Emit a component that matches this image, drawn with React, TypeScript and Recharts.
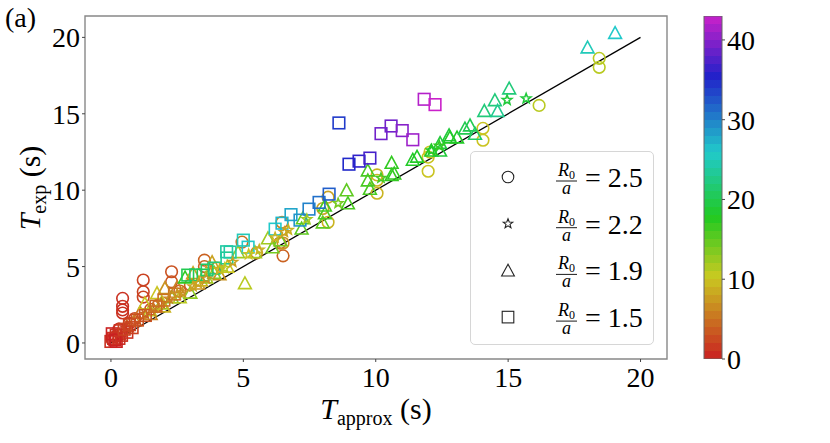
import React from 'react';
import {
  ScatterChart,
  Scatter,
  XAxis,
  YAxis,
  ReferenceLine,
  ReferenceArea,
  Legend,
  BarChart,
  Bar,
} from 'recharts';

// [T_approx, T_exp, colour value]
type Pt = [number, number, number];

const circles: Pt[] = [
  [0.05, 0.2, 1], [0.15, 0.4, 1], [0.3, 0.9, 1], [0.44, 1.96, 1], [0.44, 2.16, 1],
  [0.44, 2.4, 1], [0.44, 2.92, 1], [0.7, 1.3, 2], [0.9, 1.6, 2], [1.22, 3.0, 2],
  [1.22, 3.35, 2], [1.22, 4.12, 2], [1.5, 2.2, 3], [1.8, 2.5, 3], [2.29, 4.0, 3],
  [2.29, 4.66, 3], [2.6, 3.4, 4], [3.0, 3.8, 4], [3.53, 5.0, 4], [3.53, 5.42, 4],
  [4.0, 4.9, 6], [4.95, 6.6, 5], [5.5, 5.9, 6], [6.38, 6.54, 5], [6.5, 5.7, 4],
  [6.46, 7.9, 6], [6.5, 6.54, 7], [8.2, 7.9, 9], [8.2, 9.54, 8], [8.0, 8.8, 8],
  [10.05, 9.8, 9], [10.05, 10.65, 9], [10.05, 11.0, 9], [11.98, 11.24, 10],
  [11.98, 12.16, 10], [12.05, 12.5, 10], [14.05, 13.27, 10], [14.05, 14.05, 10],
  [16.17, 15.55, 11], [18.44, 18.04, 11], [18.44, 18.63, 11],
];

const stars: Pt[] = [
  [0.6, 1.0, 2], [1.0, 1.5, 3], [1.3, 1.9, 4], [1.6, 2.3, 5], [1.9, 2.6, 5],
  [2.2, 2.9, 6], [2.5, 3.2, 7], [2.7, 3.3, 7], [3.1, 3.7, 8], [3.3, 3.9, 8],
  [3.6, 4.2, 7], [4.1, 4.8, 9], [4.3, 4.9, 11], [4.6, 5.3, 8], [5.2, 5.8, 10],
  [5.6, 6.1, 9], [6.2, 6.9, 9], [6.7, 7.4, 9], [6.55, 7.25, 8], [7.4, 8.1, 12],
  [8.58, 9.15, 14], [10.2, 10.8, 16], [12.1, 12.6, 18], [12.4, 12.9, 17],
  [14.96, 15.9, 19], [15.68, 16.0, 19],
];

const triangles: Pt[] = [
  [0.3, 0.6, 2], [0.6, 1.1, 4], [0.9, 1.5, 6], [1.1, 2.0, 5], [1.28, 2.6, 10],
  [1.47, 2.15, 11], [1.5, 1.9, 6], [1.74, 3.27, 10], [1.9, 2.6, 12], [2.0, 2.4, 9],
  [2.04, 3.6, 7], [2.3, 3.0, 14], [2.5, 3.66, 6], [2.6, 3.0, 11], [2.8, 4.3, 17],
  [3.0, 3.3, 13], [3.1, 4.58, 8], [3.3, 3.9, 7], [3.4, 4.1, 9], [3.6, 4.3, 12],
  [3.82, 5.3, 8], [3.9, 4.6, 13], [4.1, 4.5, 7], [4.4, 5.0, 10], [4.8, 5.95, 12],
  [5.06, 3.92, 11], [5.44, 5.95, 12], [5.93, 6.86, 12], [6.1, 6.27, 14], [6.4, 6.73, 14],
  [7.2, 7.5, 15], [7.25, 8.17, 15], [8.0, 7.9, 15], [8.08, 8.5, 16], [8.08, 9.0, 16],
  [8.9, 10.0, 15], [8.95, 9.15, 16], [9.7, 10.65, 16], [9.7, 11.3, 16], [9.78, 10.1, 16],
  [10.6, 11.0, 17], [10.6, 11.8, 17], [10.7, 11.1, 17], [11.4, 12.0, 18], [11.56, 12.2, 18],
  [12.1, 12.6, 18], [12.43, 12.6, 19], [12.43, 13.1, 19], [12.77, 13.6, 19],
  [12.8, 13.46, 18], [13.07, 13.46, 18], [13.37, 14.05, 20], [13.56, 14.25, 20],
  [13.75, 13.7, 21], [14.1, 15.2, 22], [14.5, 15.9, 22], [14.6, 15.2, 23],
  [15.04, 16.67, 22], [18.0, 19.35, 25], [19.04, 20.3, 26],
];

const squares: Pt[] = [
  [0.0, 0.1, 1], [0.1, 0.3, 1], [0.2, 0.5, 1], [0.05, 0.6, 0], [0.3, 0.3, 1],
  [0.2, 0.1, 0], [0.4, 0.5, 1], [0.6, 0.7, 1], [0.8, 1.0, 2],
  [0.35, 0.8, 1], [0.15, 0.2, 0], [0.5, 0.9, 2], [0.7, 1.2, 2], [1.0, 1.5, 3],
  [1.3, 1.8, 3], [1.7, 2.4, 4], [2.0, 2.8, 5], [2.4, 3.2, 5], [2.9, 4.44, 20],
  [3.2, 4.45, 21], [3.48, 4.44, 20], [3.63, 4.77, 21], [3.9, 4.9, 22], [4.38, 5.56, 23],
  [4.37, 5.97, 24], [4.5, 5.95, 24], [5.18, 6.27, 26], [5.0, 6.73, 25], [6.2, 7.45, 26],
  [6.46, 7.84, 27], [6.8, 8.4, 28], [7.14, 8.04, 29], [7.48, 8.76, 30], [7.86, 9.2, 31],
  [8.24, 9.74, 32], [8.61, 14.4, 34], [8.99, 11.7, 35], [9.37, 11.9, 36], [9.78, 12.1, 37],
  [10.2, 13.7, 39], [10.58, 14.2, 39], [11.0, 13.9, 40], [11.4, 13.3, 41],
  [11.83, 15.95, 42], [12.24, 15.6, 43],
];

const diagonal = [{ x: 0, y: 0 }, { x: 20, y: 20 }];
const xTicks = [0, 5, 10, 15, 20];
const yTicks = [0, 5, 10, 15, 20];
const cbarTicks = [0, 10, 20, 30, 40];
const cbarMax = 43;
const ratioLabels = ['2.5', '2.2', '1.9', '1.5'];
const markerKinds = ['circle', 'star', 'triangle', 'square'];

const FONT = '"Liberation Serif", "DejaVu Serif", serif';
const xDomain: [number, number] = [-0.98, 21.0];
const yDomain: [number, number] = [-1.05, 21.4];

// rainbow-ish colour map (red -> yellow -> green -> cyan -> blue -> magenta)
const hueKnots = [[0, 0], [10, 58], [18, 122], [25, 174], [35, 237], [43, 300]];
const cmap = (v: number) => {
  const t = Math.max(0, Math.min(cbarMax, v));
  let h = 300;
  for (let i = 1; i < hueKnots.length; i++) {
    const [v0, h0] = hueKnots[i - 1];
    const [v1, h1] = hueKnots[i];
    if (t <= v1) {
      h = h0 + ((h1 - h0) * (t - v0)) / (v1 - v0);
      break;
    }
  }
  return `hsl(${h.toFixed(1)}, 72%, 46%)`;
};

const toRows = (pts: Pt[]) => pts.map(([x, y, c]) => ({ x, y, c }));

const Marker = ({ kind, cx, cy, color, sw = 1.6 }: any) => {
  const common = { fill: 'none', stroke: color, strokeWidth: sw };
  if (kind === 'circle') return <circle cx={cx} cy={cy} r={5.8} {...common} />;
  if (kind === 'square') return <rect x={cx - 5.8} y={cy - 5.8} width={11.6} height={11.6} {...common} />;
  if (kind === 'triangle')
    return <path d={`M${cx},${cy - 6.2}L${cx - 6.4},${cy + 5.6}L${cx + 6.4},${cy + 5.6}Z`} {...common} />;
  const pts: string[] = [];
  for (let k = 0; k < 10; k++) {
    const r = k % 2 ? 2.1 : 5;
    const a = -Math.PI / 2 + (k * Math.PI) / 5;
    pts.push(`${cx + r * Math.cos(a)},${cy + r * Math.sin(a)}`);
  }
  return <polygon points={pts.join(' ')} {...common} strokeLinejoin="miter" />;
};

const shapeFor = (kind: string) => (p: any) => {
  const c = p.payload?.c ?? p.c;
  return <Marker kind={kind} cx={p.cx} cy={p.cy} color={cmap(c)} />;
};

const XTitle = ({ viewBox }: any) => {
  const x = viewBox.x + viewBox.width / 2;
  const y = viewBox.y + 60;
  return (
    <text x={x} y={y} textAnchor="middle" fontFamily={FONT} fontSize={30} fill="#000">
      <tspan fontStyle="italic">T</tspan>
      <tspan fontSize={20} dy={6}>approx</tspan>
      <tspan dy={-6}> (s)</tspan>
    </text>
  );
};

const YTitle = () => (
  <text x={40} y={188} transform="rotate(-90, 40, 188)" textAnchor="middle" fontFamily={FONT} fontSize={30} fill="#000">
    <tspan fontStyle="italic">T</tspan>
    <tspan fontSize={20} dy={6}>exp</tspan>
    <tspan dy={-6}> (s)</tspan>
  </text>
);

const LegendBox = () => (
  <div
    style={{
      width: 184,
      height: 194,
      border: '1px solid #d6d6d6',
      borderRadius: 5,
      background: 'rgba(255,255,255,0.85)',
      boxSizing: 'border-box',
    }}
  >
    <svg width={182} height={192} style={{ display: 'block' }}>
      {ratioLabels.map((lab, i) => {
        const y = 25 + i * 46.7;
        return (
          <g key={lab}>
            <Marker kind={markerKinds[i]} cx={37} cy={y} color="#222" sw={1.1} />
            <text x={95.5} y={y - 1} textAnchor="middle" fontFamily={FONT} fontSize={18}>
              <tspan fontStyle="italic">R</tspan>
              <tspan fontSize={12} dy={3}>0</tspan>
            </text>
            <line x1={85} x2={106} y1={y + 4} y2={y + 4} stroke="#000" strokeWidth={0.9} />
            <text x={95.5} y={y + 17} textAnchor="middle" fontFamily={FONT} fontSize={18} fontStyle="italic">
              a
            </text>
            <text x={114} y={y + 10} fontFamily={FONT} fontSize={28}>
              {`= ${lab}`}
            </text>
          </g>
        );
      })}
    </svg>
  </div>
);

const tickStyle = { fontFamily: FONT, fontSize: 28, fill: '#000' };
const bands = Array.from({ length: cbarMax }, (_, i) => i);

export default function App() {
  return (
    <div style={{ position: 'absolute', left: 0, top: 0, width: 830, height: 443, background: '#fff' }}>
      <div style={{ position: 'absolute', left: 5, top: 2, fontFamily: FONT, fontSize: 28 }}>(a)</div>

      <div style={{ position: 'absolute', left: 0, top: 0 }}>
        <ScatterChart width={830} height={443} margin={{ top: 16, right: 163, bottom: 44, left: 25 }}>
          <XAxis
            type="number"
            dataKey="x"
            domain={xDomain}
            ticks={xTicks}
            allowDataOverflow
            height={40}
            axisLine={false}
            tickSize={3}
            tickMargin={5}
            tickLine={{ stroke: '#444' }}
            tick={tickStyle}
            label={<XTitle />}
          />
          <YAxis
            type="number"
            dataKey="y"
            domain={yDomain}
            ticks={yTicks}
            allowDataOverflow
            width={60}
            axisLine={false}
            tickSize={3}
            tickMargin={2}
            tickLine={{ stroke: '#444' }}
            tick={tickStyle}
            label={<YTitle />}
          />
          <ReferenceArea
            x1={xDomain[0]}
            x2={xDomain[1]}
            y1={yDomain[0]}
            y2={yDomain[1]}
            fill="none"
            fillOpacity={0}
            stroke="#888"
            strokeWidth={1.4}
            ifOverflow="visible"
          />
          <Scatter data={toRows(circles)} shape={shapeFor('circle')} isAnimationActive={false} />
          <Scatter data={toRows(triangles)} shape={shapeFor('triangle')} isAnimationActive={false} />
          <Scatter data={toRows(squares)} shape={shapeFor('square')} isAnimationActive={false} />
          <Scatter data={toRows(stars)} shape={shapeFor('star')} isAnimationActive={false} />
          <ReferenceLine segment={diagonal} stroke="#000" strokeWidth={1.3} ifOverflow="visible" />
          <Legend
            layout="vertical"
            verticalAlign="middle"
            align="center"
            content={<LegendBox />}
            wrapperStyle={{ position: 'absolute', left: 470, top: 151, width: 184, height: 194 }}
          />
        </ScatterChart>
      </div>

      <div style={{ position: 'absolute', left: 690, top: 0 }}>
        <BarChart
          width={140}
          height={443}
          data={[{ name: 'cbar', v: cbarMax }]}
          margin={{ top: 16, right: 58, bottom: 84, left: 14 }}
          barCategoryGap={0}
        >
          <defs>
            <linearGradient id="cbarGrad" x1="0" y1="1" x2="0" y2="0">
              {bands.flatMap((i) => [
                <stop key={`a${i}`} offset={i / cbarMax} stopColor={cmap(i + 0.5)} />,
                <stop key={`b${i}`} offset={(i + 1) / cbarMax} stopColor={cmap(i + 0.5)} />,
              ])}
            </linearGradient>
          </defs>
          <XAxis dataKey="name" type="category" hide />
          <YAxis
            orientation="right"
            type="number"
            domain={[0, cbarMax]}
            ticks={cbarTicks}
            allowDataOverflow
            width={50}
            axisLine={false}
            tickSize={3}
            tickMargin={2}
            tickLine={{ stroke: '#444' }}
            tick={tickStyle}
          />
          <Bar dataKey="v" fill="url(#cbarGrad)" stroke="#666" strokeWidth={1} isAnimationActive={false} />
        </BarChart>
      </div>
    </div>
  );
}
